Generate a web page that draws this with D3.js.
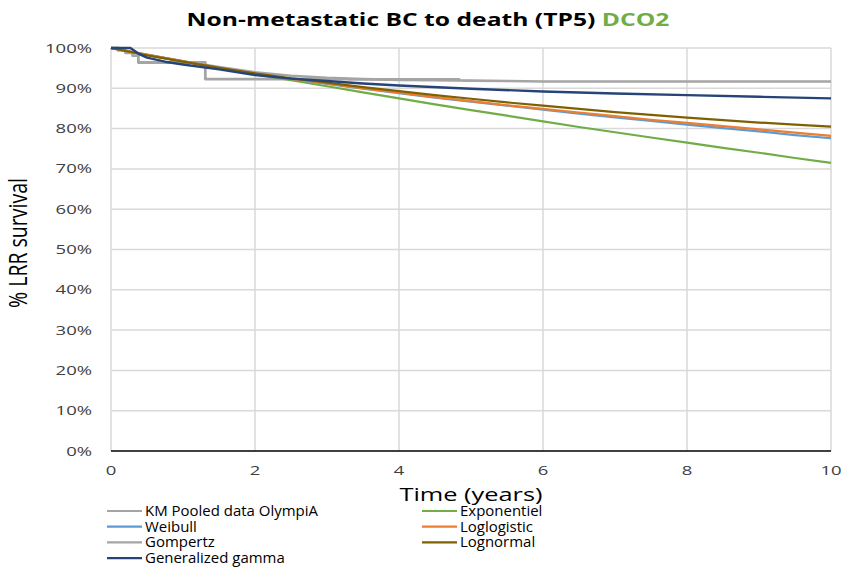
<!DOCTYPE html>
<html>
<head>
<meta charset="utf-8">
<script src="https://cdn.jsdelivr.net/npm/d3@7/dist/d3.min.js"></script>
<style>
  html, body { margin: 0; padding: 0; background: #fff; }
  svg { display: block; }
  text { font-family: "Open Sans", "DejaVu Sans", sans-serif; }
</style>
</head>
<body>
<svg id="chart" width="842" height="567"></svg>
<script>
// ---- Data (survival, % of patients) ----
const xTicks = [0, 2, 4, 6, 8, 10];
const yTicks = [0, 10, 20, 30, 40, 50, 60, 70, 80, 90, 100];

// Kaplan-Meier pooled data (step function)
const kmTime = [0, 0.1, 0.2, 0.3, 0.38, 1.31, 3.3, 4.85];
const kmSurv = [100, 99.4, 98.8, 98.1, 96.4, 92.3, 92.2, 92.2];

// Parametric model predictions on a half-year grid
const modelTime = [0, 0.5, 1, 1.5, 2, 2.5, 3, 3.5, 4, 4.5, 5, 5.5, 6, 6.5, 7, 7.5, 8, 8.5, 9, 9.5, 10];
const exponentiel = [100, 98.3, 96.7, 95.1, 93.5, 92.0, 90.5, 89.0, 87.5, 86.0, 84.6, 83.2, 81.8, 80.4, 79.1, 77.8, 76.5, 75.2, 74.0, 72.7, 71.5];
const weibull     = [100, 98.3, 96.7, 95.1, 93.6, 92.3, 91.1, 89.9, 88.8, 87.7, 86.7, 85.7, 84.7, 83.7, 82.8, 81.9, 81.0, 80.1, 79.3, 78.4, 77.6];
const loglogistic = [100, 98.3, 96.7, 95.1, 93.6, 92.3, 91.2, 90.0, 88.9, 87.8, 86.8, 85.8, 84.9, 84.0, 83.1, 82.2, 81.4, 80.6, 79.8, 79.0, 78.2];
const gompertz    = [100, 98.3, 96.7, 95.3, 94.0, 93.1, 92.6, 92.3, 92.1, 92.0, 91.9, 91.8, 91.7, 91.7, 91.7, 91.7, 91.7, 91.7, 91.7, 91.7, 91.7];
const lognormal   = [100, 98.2, 96.6, 95.1, 93.7, 92.5, 91.4, 90.3, 89.3, 88.3, 87.4, 86.5, 85.7, 84.9, 84.1, 83.4, 82.7, 82.1, 81.5, 81.0, 80.5];

// Generalized gamma has its own grid (flat start)
const ggTime = [0, 0.27, 0.4, 0.5, 0.75, 1, 1.5, 2, 2.5, 3, 3.5, 4, 5, 6, 7, 8, 9, 10];
const ggSurv = [100, 100, 98.4, 97.6, 96.6, 95.9, 94.7, 93.3, 92.4, 91.8, 91.2, 90.7, 89.9, 89.2, 88.7, 88.3, 87.9, 87.5];

const seriesNames = ["KM Pooled data OlympiA", "Exponentiel", "Weibull", "Loglogistic", "Gompertz", "Lognormal", "Generalized gamma"];
const seriesColors = ["#A5A5A5", "#70AD47", "#5B9BD5", "#ED7D31", "#A5A5A5", "#7F6000", "#264478"];

// ---- Layout ----
const svg = d3.select("#chart");
const plotLeft = 111, plotRight = 831, plotTop = 48, plotBottom = 451;

const x = d3.scaleLinear().domain([0, 10]).range([plotLeft, plotRight]);
const y = d3.scaleLinear().domain([0, 100]).range([plotBottom, plotTop]);

// text with an optional horizontal stretch
function label(g, px, py, str, o) {
  return g.append("text")
    .attr("transform", `translate(${px},${py}) scale(${o.sx || 1},1)`)
    .attr("text-anchor", o.anchor || "start")
    .attr("font-size", o.size)
    .attr("fill", o.fill || "#000")
    .attr("font-weight", o.weight || "normal")
    .text(str);
}

// gridlines
const grid = svg.append("g");
grid.selectAll("line.h").data(yTicks.filter(d => d > 0)).join("line")
  .attr("class", "h")
  .attr("x1", plotLeft).attr("x2", plotRight)
  .attr("y1", d => y(d)).attr("y2", d => y(d))
  .attr("stroke", "#D9D9D9").attr("stroke-width", 1.5);
grid.selectAll("line.v").data(xTicks).join("line")
  .attr("class", "v")
  .attr("x1", d => x(d)).attr("x2", d => x(d))
  .attr("y1", plotTop).attr("y2", plotBottom)
  .attr("stroke", "#D9D9D9").attr("stroke-width", 1.5);

// x axis line
svg.append("line").attr("x1", plotLeft).attr("x2", plotRight)
  .attr("y1", plotBottom).attr("y2", plotBottom)
  .attr("stroke", "#000").attr("stroke-width", 1.5);

// tick labels
const tickG = svg.append("g");
yTicks.forEach(v => label(tickG, 92, y(v) + 4.5, v + "%", { size: 12.5, anchor: "end", sx: 1.48, fill: "#404040" }));
xTicks.forEach(v => label(tickG, x(v), 475, String(v), { size: 12.5, anchor: "middle", sx: 1.48, fill: "#404040" }));

// axis titles
label(svg, (plotLeft + plotRight) / 2, 501, "Time (years)", { size: 17.5, anchor: "middle", sx: 1.45 });
svg.append("text")
  .attr("transform", "translate(27,243) rotate(-90) scale(1,1.3)")
  .attr("text-anchor", "middle").attr("font-size", 19.5)
  .text("% LRR survival");

// chart title (two-coloured)
const title = svg.append("text")
  .attr("transform", "translate(428,26) scale(1.37,1)")
  .attr("text-anchor", "middle").attr("font-size", 18).attr("font-weight", "bold");
title.append("tspan").attr("fill", "#000").text("Non-metastatic BC to death (TP5) ");
title.append("tspan").attr("fill", "#70AD47").text("DCO2");

// ---- Curves ----
const lineLin = d3.line().x(d => x(d[0])).y(d => y(d[1]));
const lineStep = d3.line().x(d => x(d[0])).y(d => y(d[1])).curve(d3.curveStepAfter);

const curves = [
  { data: d3.zip(modelTime, gompertz), color: seriesColors[4], w: 2.6, gen: lineLin },
  { data: d3.zip(kmTime, kmSurv), color: seriesColors[0], w: 2.8, gen: lineStep },
  { data: d3.zip(modelTime, exponentiel), color: seriesColors[1], w: 2.2, gen: lineLin },
  { data: d3.zip(modelTime, weibull), color: seriesColors[2], w: 2.2, gen: lineLin },
  { data: d3.zip(modelTime, loglogistic), color: seriesColors[3], w: 2.2, gen: lineLin },
  { data: d3.zip(modelTime, lognormal), color: seriesColors[5], w: 2.2, gen: lineLin },
  { data: d3.zip(ggTime, ggSurv), color: seriesColors[6], w: 2.4, gen: lineLin }
];
svg.append("g").selectAll("path").data(curves).join("path")
  .attr("d", c => c.gen(c.data))
  .attr("fill", "none")
  .attr("stroke", c => c.color)
  .attr("stroke-width", c => c.w)
  .attr("stroke-linejoin", "round");

// ---- Legend (two columns, left column first) ----
const legendOrder = [0, 2, 4, 6, 1, 3, 5];
const legG = svg.append("g");
legendOrder.forEach((si, k) => {
  const col = k < 4 ? 0 : 1;
  const row = k < 4 ? k : k - 4;
  const lx = col === 0 ? 107 : 422;
  const ly = 511 + row * 15.7;
  legG.append("line").attr("x1", lx).attr("x2", lx + 35)
    .attr("y1", ly).attr("y2", ly)
    .attr("stroke", seriesColors[si]).attr("stroke-width", 2.2);
  label(legG, lx + 38, ly + 5, seriesNames[si], { size: 14, fill: "#000", sx: 1.07 });
});
</script>
</body>
</html>
